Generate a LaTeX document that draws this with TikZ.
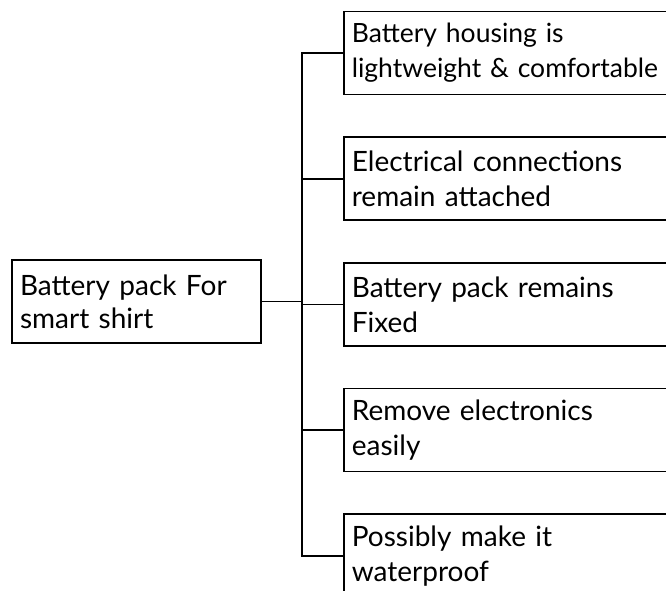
\documentclass[tikz,border=0pt]{standalone}
\usepackage{fontspec}
\setmainfont{Lato}
\usetikzlibrary{positioning}
\tikzset{
  rootbox/.style={draw, line width=1.7pt, minimum width=249pt, minimum height=83pt,
    text width=233pt, align=left, inner sep=8pt, font=\fontsize{28}{33}\selectfont},
  needbox/.style={draw, line width=1.7pt, minimum width=420pt, minimum height=83pt,
    text width=404pt, align=left, inner sep=8pt, font=\fontsize{28}{35}\selectfont},
  link/.style={line width=1.7pt, line cap=rect}
}

\begin{document}
\begin{tikzpicture}[x=1pt,y=-1pt]
\useasboundingbox (0,0) rectangle (666,590);

% ---------------- Root ----------------
\node[rootbox] (root) at (136.5,301.5) {Battery pack For\\smart shirt};
\coordinate (split) at (302,301.5);

% ---------------- Needs ----------------
\node[needbox, anchor=west, font=\fontsize{26.5}{35}\selectfont] (n1) at (343,53)
  {Battery housing is\\lightweight \& comfortable};
\node[needbox, below=41pt of n1] (n2) {Electrical connections\\remain attached};
\node[needbox, below=41pt of n2] (n3) {Battery pack remains\\Fixed};
\node[needbox, below=41pt of n3] (n4) {Remove electronics\\easily};
\node[needbox, below=41pt of n4] (n5) {Possibly make it\\waterproof};

% ---------------- Links ----------------
\draw[link] (root.east) -- (split);
\foreach \n in {n1,n2,n3,n4,n5}
  \draw[link] (split) |- (\n.west);

\end{tikzpicture}
\end{document}
